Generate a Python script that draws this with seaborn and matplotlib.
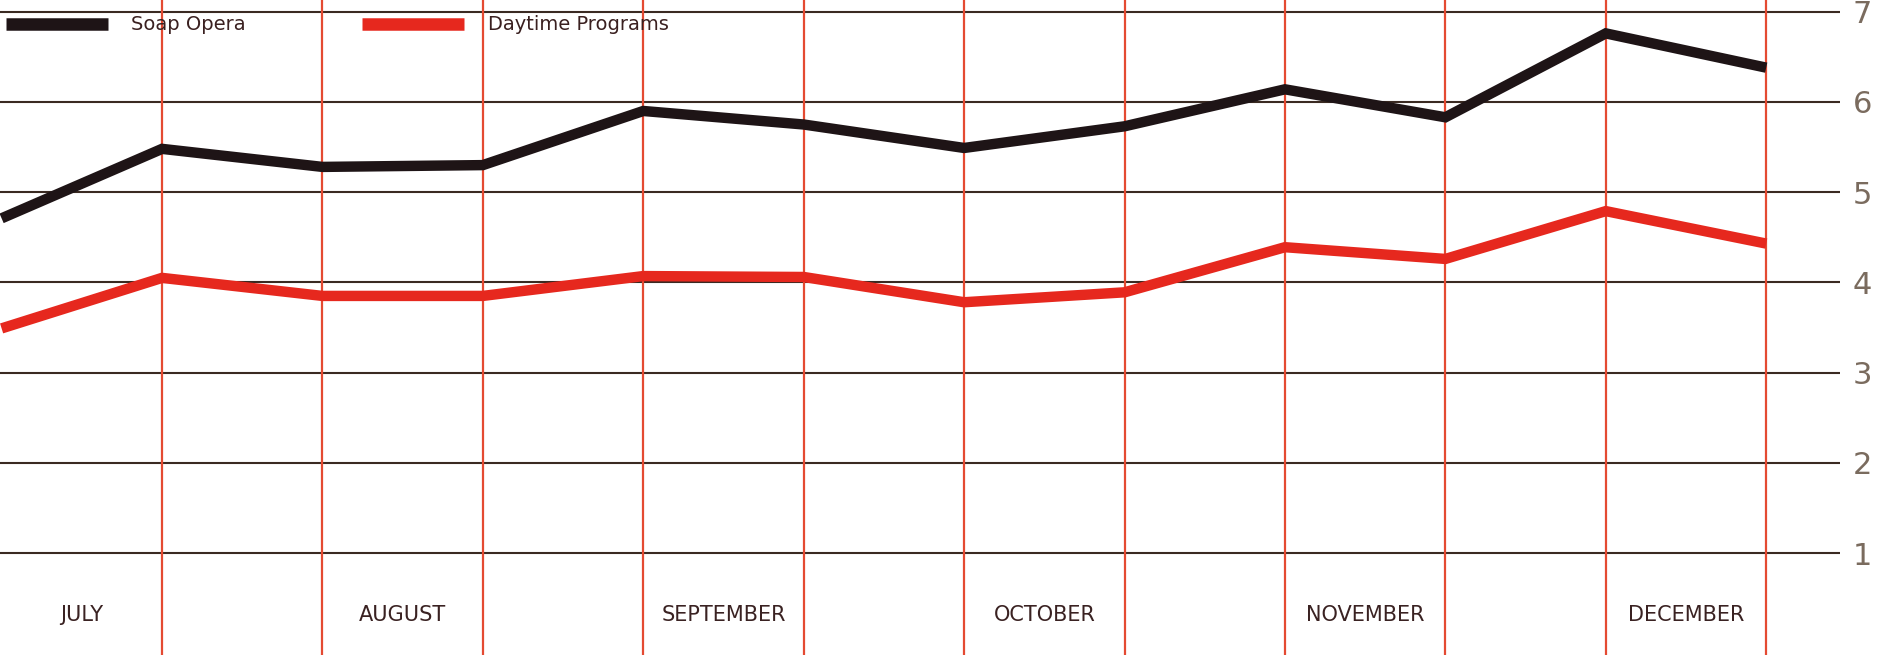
import matplotlib
matplotlib.use("Agg")
import matplotlib.pyplot as plt
from matplotlib.lines import Line2D
import seaborn as sns
import pandas as pd
import numpy as np

# ---- data ----
points = list(range(12))
soap_opera = [4.71, 5.48, 5.28, 5.30, 5.90, 5.75, 5.49, 5.73, 6.14, 5.83, 6.76, 6.38]
daytime = [3.49, 4.05, 3.85, 3.85, 4.07, 4.06, 3.78, 3.89, 4.39, 4.26, 4.79, 4.43]
months = ["JULY", "AUGUST", "SEPTEMBER", "OCTOBER", "NOVEMBER", "DECEMBER"]
series_names = ["Soap Opera", "Daytime Programs"]
y_ticks = [1, 2, 3, 4, 5, 6, 7]

df = pd.DataFrame({
    "point": points * 2,
    "value": soap_opera + daytime,
    "series": [series_names[0]] * 12 + [series_names[1]] * 12,
})

sns.set_theme(style="white")
plt.rcParams["font.family"] = ["DejaVu Sans"]

W, H = 1879, 655
fig = plt.figure(figsize=(W / 100, H / 100), dpi=100)
fig.patch.set_facecolor("white")
ax = fig.add_axes([0, 0, 1840 / W, 1])
ax.set_facecolor("white")

colors = {"Soap Opera": "#1e1416", "Daytime Programs": "#e6281e"}

# grid
for v in y_ticks:
    ax.axhline(v, color="#3a2a22", lw=1.5, zorder=1)
for xv in range(1, 12):
    ax.axvline(xv, color="#e44a32", lw=1.6, zorder=1)

sns.lineplot(data=df, x="point", y="value", hue="series", palette=colors,
             linewidth=7.5, ax=ax, legend=False, zorder=3,
             solid_joinstyle="miter", solid_capstyle="butt")

ax.set_xlim(-0.01, 11.46)
ax.set_ylim(-0.13, 7.13)

ax.set_xticks([])
ax.set_xlabel("")
ax.set_ylabel("")
ax.yaxis.tick_right()
ax.set_yticks(y_ticks)
ax.set_yticklabels([str(v) for v in y_ticks], fontsize=22, color="#7a6b5e")
ax.tick_params(axis="y", length=0, pad=9)
for s in ax.spines.values():
    s.set_visible(False)

# month labels
for i, m in enumerate(months):
    ax.text(2 * i + 0.5, 0.31, m, ha="center", va="center", fontsize=15,
            color="#3a2222")

# legend
handles = [Line2D([0], [0], color=colors[n], lw=9, solid_capstyle="butt") for n in series_names]
leg = ax.legend(handles, series_names, loc="center left",
                bbox_to_anchor=(0.003, 1 - 25 / H), ncol=2, frameon=False,
                handlelength=5.25, handletextpad=1.2, columnspacing=6.0,
                borderpad=0, borderaxespad=0, fontsize=14)
for t in leg.get_texts():
    t.set_color("#3a2020")

fig.savefig("out.png", dpi=100, facecolor="white")
